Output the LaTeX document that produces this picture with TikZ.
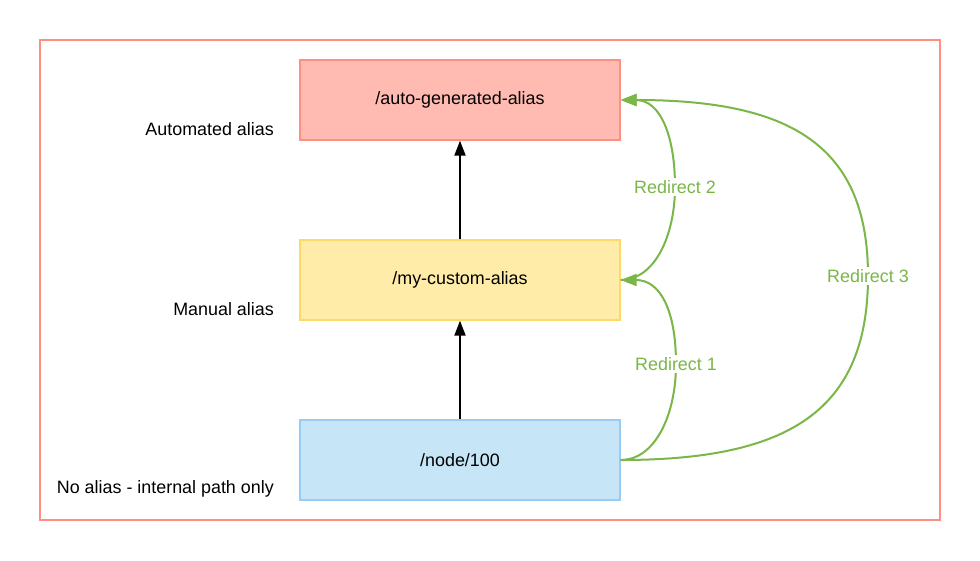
\documentclass[tikz,border=0pt]{standalone}
\usepackage{fontspec}
\setmainfont{Liberation Sans}
\usetikzlibrary{arrows.meta}
\definecolor{frame}{RGB}{255,143,128}
\definecolor{redfill}{RGB}{255,187,177}
\definecolor{yelfill}{RGB}{255,236,168}
\definecolor{yelline}{RGB}{255,217,102}
\definecolor{bluefill}{RGB}{198,229,246}
\definecolor{blueline}{RGB}{153,204,245}
\definecolor{grn}{RGB}{122,182,72}
\tikzset{
  box/.style={draw, line width=1.3pt, minimum width=320pt, minimum height=80pt, inner sep=0pt, font=\fontsize{17.9}{20}\selectfont},
  side/.style={anchor=east, inner sep=0pt, font=\fontsize{17.9}{20}\selectfont},
  blk/.style={line width=2pt, -{Triangle[length=15pt,width=11pt]}},
  redir/.style={draw=grn, line width=2pt, -{Triangle[length=16pt,width=12pt]}},
  rlab/.style={fill=white, text=grn, inner sep=2pt, font=\fontsize{17.9}{20}\selectfont}
}
\begin{document}
\begin{tikzpicture}[x=1pt,y=-1pt]
\useasboundingbox (0,0) rectangle (980,560);
\draw[frame, line width=1.8pt] (40,40) rectangle (940,520);
\node[box, draw=frame, fill=redfill] (top) at (460,100) {/auto-generated-alias};
\node[box, draw=yelline, fill=yelfill] (mid) at (460,280) {/my-custom-alias};
\node[box, draw=blueline, fill=bluefill] (bot) at (460,460) {/node/100};
\node[side] (l1) at (274,129) {Automated alias};
\node[side] (l2) at (274,309) {Manual alias};
\node[side] (l3) at (274,489) {No alias - internal path only};
\draw[blk] (mid.north) -- (top.south);
\draw[blk] (bot.north) -- (mid.south);
\coordinate (r1) at (676,364);
\coordinate (r2) at (675,187);
\coordinate (r3) at (868,276);
\draw[redir] (bot.east) .. controls (655,460) and (676,415) .. (r1) .. controls (676,310) and (660,280) .. (mid.east);
\draw[redir] (mid.east) .. controls (655,280) and (675,235) .. (r2) .. controls (675,135) and (660,100) .. (top.east);
\draw[redir] (bot.east) .. controls (790,460) and (868,410) .. (r3) .. controls (868,145) and (790,100) .. (top.east);
\node[rlab] (t1) at (r1) {Redirect 1};
\node[rlab] (t2) at (r2) {Redirect 2};
\node[rlab] (t3) at (r3) {Redirect 3};
\end{tikzpicture}
\end{document}
